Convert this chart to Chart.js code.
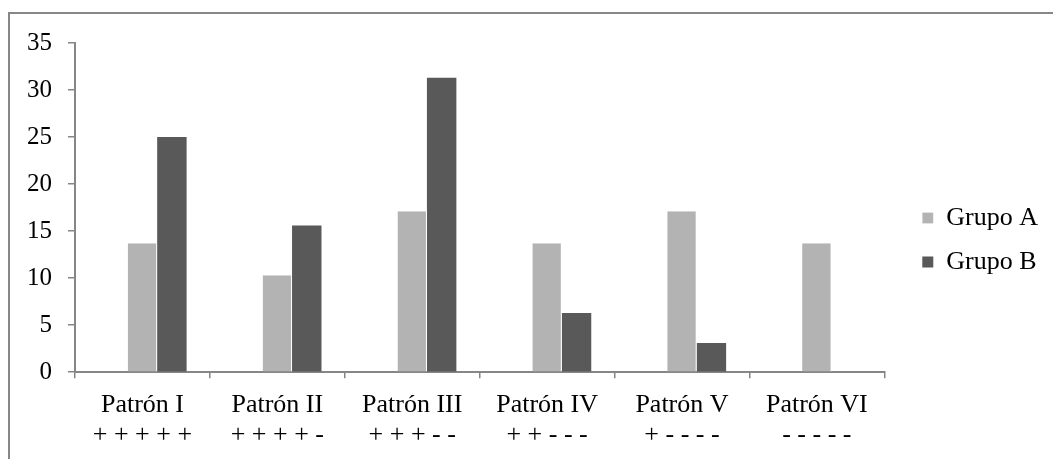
<!DOCTYPE html>
<html>
<head>
<meta charset="utf-8">
<script src="https://cdn.jsdelivr.net/npm/chart.js"></script>
<style>
  body { margin: 0; background: #fff; }
  #wrap { position: absolute; left: 0; top: 0; width: 1053px; height: 459px; }
  #frame { position: absolute; left: 8px; top: 12px; width: 1100px; height: 500px;
           border-left: 2px solid #878787; border-top: 2px solid #878787; pointer-events: none; }
</style>
</head>
<body>
<div id="wrap"><canvas id="patronChart"></canvas></div>
<div id="frame"></div>
<script>
var patternNames = ['Patrón I', 'Patrón II', 'Patrón III', 'Patrón IV', 'Patrón V', 'Patrón VI'];
var patternSigns = ['+ + + + +', '+ + + + -', '+ + + - -', '+ + - - -', '+ - - - -', '- - - - -'];
var grupoA = [13.7, 10.3, 17.1, 13.7, 17.1, 13.7];
var grupoB = [25.0, 15.6, 31.3, 6.3, 3.1, 0];
var yTicks = [0, 5, 10, 15, 20, 25, 30, 35];

var axisGray = '#868686';
var serif = "'Liberation Serif', 'Times New Roman', serif";

function getCategoryLabels() {
    var labels = [];
    for (var i = 0; i < patternNames.length; i++) {
        labels.push([patternNames[i], patternSigns[i]]);
    }
    return labels;
}

function drawChart() {
    var ctx = document.getElementById('patronChart').getContext('2d');

    var patronChart = new Chart(ctx, {
        type: 'bar',
        data: {
            labels: getCategoryLabels(),
            datasets: [{
                // empty slot, as in the original there is a blank series before Grupo A
                label: '',
                data: patternNames.map(function () { return null; }),
                backgroundColor: 'rgba(0,0,0,0)'
            }, {
                label: 'Grupo A',
                data: grupoA,
                backgroundColor: '#b3b3b3',
                borderColor: '#ffffff',
                borderWidth: { left: 0, right: 1, top: 0, bottom: 0 }
            }, {
                label: 'Grupo B',
                data: grupoB,
                backgroundColor: '#595959'
            }]
        },
        options: {
            responsive: true,
            maintainAspectRatio: false,
            animation: false,
            categoryPercentage: 0.655,
            barPercentage: 1,
            layout: {
                padding: { left: 11, top: 43, right: 5, bottom: -3 }
            },
            plugins: {
                tooltip: { enabled: false },
                legend: {
                    position: 'right',
                    align: 'start',
                    // blank title only used to push the entries down to mid height
                    title: {
                        display: true,
                        text: ' ',
                        font: { size: 10, lineHeight: 1 },
                        padding: { top: 134, bottom: 0 }
                    },
                    labels: {
                        color: '#000',
                        font: { family: serif, size: 26 },
                        boxWidth: 11,
                        boxHeight: 11,
                        padding: 18,
                        filter: function (item) { return item.text !== ''; }
                    }
                }
            },
            scales: {
                x: {
                    grid: {
                        offset: true,
                        drawOnChartArea: false,
                        color: axisGray,
                        lineWidth: 1.5,
                        tickLength: 6
                    },
                    border: { color: axisGray, width: 2 },
                    ticks: {
                        color: '#000',
                        padding: 12,
                        maxRotation: 0,
                        font: { family: serif, size: 26, lineHeight: 1.15 }
                    }
                },
                y: {
                    min: 0,
                    max: 35,
                    afterBuildTicks: function (scale) {
                        scale.ticks = yTicks.map(function (v) { return { value: v }; });
                    },
                    grid: {
                        drawOnChartArea: false,
                        color: axisGray,
                        lineWidth: 1.5,
                        tickLength: 7
                    },
                    border: { color: axisGray, width: 2 },
                    ticks: {
                        color: '#000',
                        padding: 16,
                        font: { family: serif, size: 25 }
                    }
                },
                gap: {
                    // spacer between plot and legend
                    position: 'right',
                    display: true,
                    grid: { display: false },
                    border: { display: false },
                    ticks: { display: false },
                    afterFit: function (scale) { scale.width = 20; }
                }
            }
        }
    });
}

drawChart();
</script>
</body>
</html>
